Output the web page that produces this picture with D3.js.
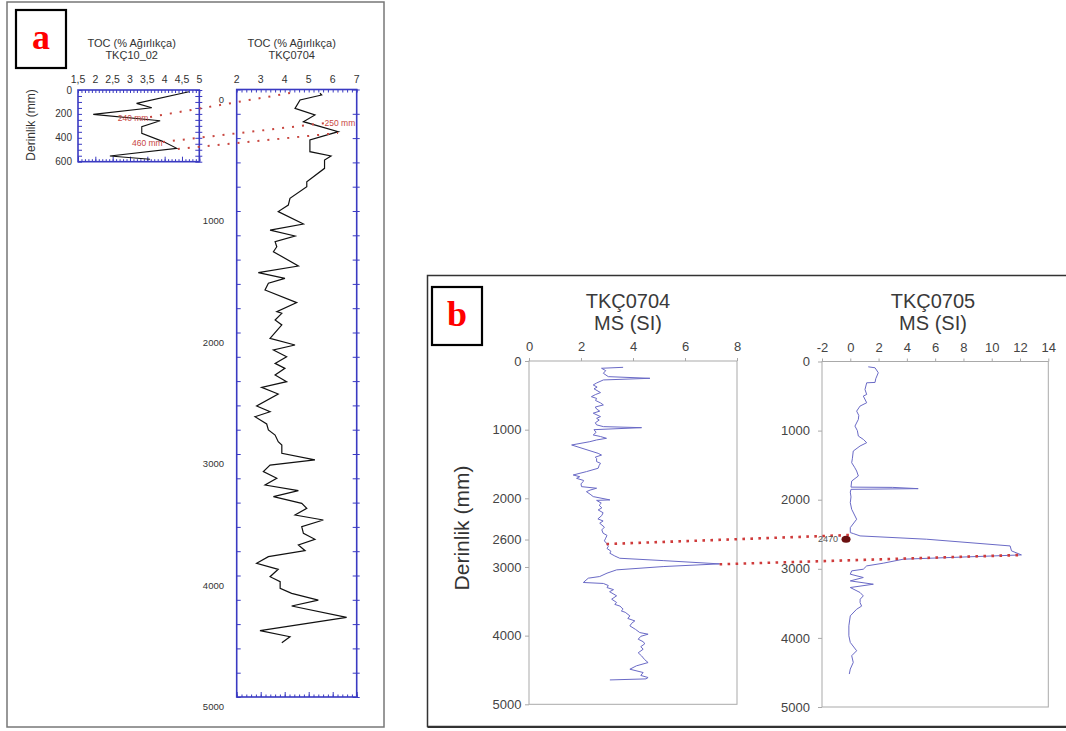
<!DOCTYPE html>
<html>
<head>
<meta charset="utf-8">
<script src="https://cdn.jsdelivr.net/npm/d3@7"></script>
<style>
  body { margin: 0; background: #fff; }
  svg { display: block; font-family: "Liberation Sans", Arial, sans-serif; }
</style>
</head>
<body>
<svg id="chart" width="1066" height="731"></svg>
<script>
// ---- Data: [derinlik (mm), değer] ----
// TOC, TKÇ10_02 (panel a, small plot)
const tocShort = [
  [15, 4.7], [112, 3.19], [148, 3.63], [204, 1.94], [257, 3.87], [307, 3.34],
  [363, 3.34], [432, 3.96], [488, 4.35], [552, 2.42], [580, 3.58]
];
// TOC, TKÇ0704 (panel a, long plot)
const tocLong = [
  [31, 5.47], [45, 5.54], [86, 4.64], [155, 4.43], [210, 5.26], [265, 4.78],
  [347, 6.23], [415, 5.05], [512, 5.05], [547, 5.93], [580, 5.66], [649, 5.66],
  [759, 4.92], [800, 4.92], [896, 4.22], [951, 4.15], [1005, 3.73], [1107, 4.78],
  [1157, 3.39], [1206, 4.43], [1252, 3.6], [1294, 3.67], [1335, 3.53], [1453, 4.57],
  [1507, 2.9], [1554, 4.01], [1595, 3.32], [1650, 3.18], [1754, 4.5], [1828, 3.67],
  [1842, 3.88], [1897, 3.6], [1938, 3.88], [2048, 3.39], [2103, 4.43], [2144, 3.53],
  [2199, 4.08], [2254, 3.6], [2295, 4.01], [2350, 3.6], [2405, 4.08], [2451, 3.04],
  [2506, 3.73], [2605, 2.83], [2652, 3.39], [2693, 2.76], [2753, 3.25], [2802, 3.32],
  [2844, 3.6], [2899, 3.73], [2926, 3.88], [2994, 3.88], [3049, 5.26], [3091, 3.39],
  [3145, 3.11], [3200, 3.67], [3255, 3.18], [3302, 4.57], [3351, 3.53], [3406, 4.71],
  [3447, 4.92], [3502, 4.43], [3543, 5.61], [3598, 4.71], [3653, 4.78], [3702, 5.26],
  [3749, 4.57], [3796, 4.85], [3845, 3.32], [3900, 2.83], [3949, 3.73], [4010, 3.39],
  [4051, 3.81], [4106, 3.81], [4147, 4.29], [4202, 5.4], [4251, 4.29], [4344, 6.58],
  [4454, 2.97], [4504, 4.22], [4553, 3.88]
];
// MS (SI), TKÇ0704 (panel b, left)
const ms0704 = [
  [92, 3.62], [106, 2.79], [140, 2.95], [179, 2.86], [228, 3.05], [252, 4.65], [276, 2.86],
  [320, 2.6], [349, 2.47], [380, 2.62], [405, 2.5], [460, 2.75], [490, 2.55], [520, 2.4],
  [545, 2.6], [575, 2.56], [610, 2.75], [640, 2.86], [670, 2.55], [700, 2.6], [730, 2.72],
  [760, 2.47], [810, 2.75], [835, 2.6], [860, 2.7], [900, 2.55], [930, 2.6], [956, 2.86],
  [971, 4.33], [1000, 2.5], [1040, 2.58], [1077, 2.47], [1100, 2.75], [1126, 2.98],
  [1150, 2.6], [1175, 2.34], [1223, 1.64], [1345, 2.66], [1370, 2.79], [1400, 2.55],
  [1420, 2.6], [1465, 2.6], [1490, 2.75], [1520, 2.7], [1562, 2.66], [1611, 2.21],
  [1660, 1.7], [1685, 1.95], [1709, 1.83], [1740, 2.1], [1757, 2.08], [1790, 2.0],
  [1830, 2.02], [1853, 2.6], [1880, 2.35], [1903, 2.21], [1940, 2.35], [1975, 2.47],
  [2023, 3.11], [2030, 2.6], [2070, 2.78], [2100, 2.7], [2140, 2.8], [2169, 2.66],
  [2210, 2.85], [2250, 2.8], [2300, 2.65], [2330, 2.85], [2363, 2.72], [2420, 2.9],
  [2460, 2.8], [2508, 2.85], [2540, 3.0], [2580, 2.95], [2620, 2.9], [2654, 2.98],
  [2700, 3.05], [2730, 3.0], [2770, 3.15], [2800, 3.11], [2840, 3.3], [2873, 3.49],
  [2907, 5.16], [2955, 7.33], [2994, 5.16], [3042, 3.37], [3090, 3.0], [3139, 2.72],
  [3163, 2.28], [3226, 2.09], [3240, 2.86], [3270, 3.05], [3300, 3.0], [3330, 3.25],
  [3360, 3.1], [3420, 3.37], [3469, 3.18], [3517, 3.37], [3545, 3.3], [3570, 3.5],
  [3615, 3.62], [3640, 3.55], [3660, 3.7], [3712, 3.88], [3750, 3.8], [3785, 4.07],
  [3820, 3.95], [3858, 3.88], [3910, 4.1], [3955, 4.26], [3979, 4.58], [4010, 4.3],
  [4052, 4.2], [4090, 4.4], [4120, 4.45], [4160, 4.3], [4198, 4.39], [4250, 4.2],
  [4295, 4.33], [4350, 4.45], [4392, 4.58], [4440, 4.13], [4489, 3.88], [4537, 4.39],
  [4580, 4.3], [4610, 4.58], [4630, 4.5], [4645, 3.11]
];
// MS (SI), TKÇ0705 (panel b, right)
const ms0705 = [
  [77, 1.27], [91, 1.75], [163, 1.98], [250, 1.8], [303, 1.75], [308, 1.16], [405, 1.04],
  [477, 1.16], [500, 0.92], [597, 1.16], [645, 0.69], [718, 0.45], [780, 0.6], [838, 0.57],
  [935, 0.33], [1000, 0.5], [1079, 0.57], [1127, 0.92], [1175, 1.16], [1223, 0.69],
  [1296, 0.21], [1400, 0.15], [1465, 0.1], [1530, 0.3], [1585, 0.45], [1657, 0.57],
  [1730, 0.1], [1818, 0.05], [1822, 3.0], [1840, 4.8], [1850, 0.05], [1890, 0.0],
  [1960, 0.05], [2043, 0.0], [2139, 0.1], [2283, 0.45], [2404, 0.0], [2476, 0.0],
  [2490, 0.21], [2524, 0.69], [2572, 5.4], [2669, 11.3], [2741, 11.4], [2799, 12.1],
  [2861, 3.75], [2919, 2.33], [2958, 1.16], [3006, 0.92], [3030, 0.1], [3078, 0.0],
  [3126, 0.92], [3175, 0.0], [3223, 1.63], [3271, 0.0], [3343, 0.69], [3392, 0.92],
  [3440, 0.7], [3488, 0.69], [3540, 0.8], [3585, 0.45], [3681, 0.0], [3825, -0.1],
  [3970, -0.1], [4066, 0.0], [4186, 0.45], [4258, 0.1], [4355, 0.21], [4451, 0.0],
  [4523, -0.07]
];

// ---- Tick labels ----
const tocShortTicksX = [1.5, 2, 2.5, 3, 3.5, 4, 4.5, 5];
const tocShortTickText = ["1,5", "2", "2,5", "3", "3,5", "4", "4,5", "5"];
const tocShortTicksY = [0, 200, 400, 600];
const tocLongTicksX = [2, 3, 4, 5, 6, 7];
const tocLongTicksY = [0, 1000, 2000, 3000, 4000, 5000];
const ms0704TicksX = [0, 2, 4, 6, 8];
const ms0704TicksY = [0, 1000, 2000, 2600, 3000, 4000, 5000];
const ms0705TicksX = [-2, 0, 2, 4, 6, 8, 10, 12, 14];
const ms0705TicksY = [0, 1000, 2000, 3000, 4000, 5000];

// Korelasyon çizgileri: [değer1, derinlik1, değer2, derinlik2]
const corrA = [
  [3.58, 226, 4.22, 29],
  [3.95, 435, 5.68, 276],
  [4.38, 494, 6.22, 358]
];
const corrB = [
  [2.98, 2666, -0.02, 2511],
  [7.33, 2961, 12.11, 2800]
];
// Not etiketleri: [metin, değer, derinlik]
const notesShort = [["240 mm", 3.09, 234], ["460 mm", 3.5, 444]];
const notesLong = [["250 mm", 6.3, 276]];
const marker0705 = [["2470", -0.3, 2572]];

const svg = d3.select("#chart");
const blue = "#3a3ac2";
const grey = "#a9a9a9";
const red = "#c8463f";

// ---- Panel çerçeveleri ----
svg.append("rect").attr("x", 7).attr("y", 2).attr("width", 377).attr("height", 725)
  .attr("fill", "none").attr("stroke", "#777").attr("stroke-width", 1.5);
svg.append("rect").attr("x", 427.5).attr("y", 275.5).attr("width", 650).attr("height", 451)
  .attr("fill", "none").attr("stroke", "#333").attr("stroke-width", 1.5);

function panelLabel(x, y, txt) {
  svg.append("rect").attr("x", x).attr("y", y).attr("width", 50).attr("height", 58)
    .attr("fill", "#fff").attr("stroke", "#000").attr("stroke-width", 2.2);
  svg.append("text").attr("x", x + 25).attr("y", y + 39).attr("text-anchor", "middle")
    .attr("font-family", "'Liberation Serif', 'Times New Roman', serif")
    .attr("font-weight", "bold").attr("font-size", 36).attr("fill", "#f00").text(txt);
}
panelLabel(16, 10, "a");
panelLabel(432, 287, "b");

// ---- Panel a ----
const xS = d3.scaleLinear().domain([1.5, 5]).range([78, 199.3]);
const yS = d3.scaleLinear().domain([0, 600]).range([90, 161.7]);
const xL = d3.scaleLinear().domain([2, 7]).range([236.7, 356.7]);
const yL = d3.scaleLinear().domain([0, 5000]).range([89.5, 697]);

// mavi çerçeve + içe doğru tikler
function blueFrame(x, y, o) {
  const g = svg.append("g");
  const [x0, x1] = x.range(), [y0, y1] = y.range();
  const tick = (axis, tr) => g.append("g").attr("transform", tr).call(axis)
    .call(s => s.select(".domain").remove())
    .call(s => s.selectAll("line").attr("stroke", blue).attr("stroke-width", 1));
  tick(d3.axisBottom(x).tickValues(o.topMinor).tickSize(3).tickFormat(""), `translate(0,${y0})`);
  tick(d3.axisTop(x).tickValues(o.botMinor).tickSize(2.5).tickFormat(""), `translate(0,${y1})`);
  tick(d3.axisTop(x).tickValues(o.botMajor).tickSize(5).tickFormat(""), `translate(0,${y1})`);
  tick(d3.axisRight(y).tickValues(o.side).tickSize(4).tickFormat(""), `translate(${x0},0)`);
  tick(d3.axisLeft(y).tickValues(o.side).tickSize(4).tickFormat(""), `translate(${x1},0)`);
  tick(d3.axisRight(y).tickValues(o.side).tickSize(3).tickFormat(""), `translate(${x1},0)`);
  g.append("rect").attr("x", x0).attr("y", y0).attr("width", x1 - x0).attr("height", y1 - y0)
    .attr("fill", "none").attr("stroke", blue).attr("stroke-width", 1.6);
}
blueFrame(xS, yS, {
  topMinor: d3.range(1.5, 5.001, 0.1),
  botMinor: d3.range(1.5, 5.001, 0.1),
  botMajor: d3.range(1.5, 5.001, 0.5),
  side: d3.range(0, 601, 50)
});
blueFrame(xL, yL, {
  topMinor: d3.range(2, 7.001, 0.2),
  botMinor: d3.range(2, 7.001, 0.2),
  botMajor: d3.range(2, 7.001, 1),
  side: d3.range(0, 5001, 200)
});

// başlıklar
function titleA(cx, l2) {
  svg.append("text").attr("x", cx).attr("y", 46.5).attr("text-anchor", "middle")
    .attr("font-size", 11).attr("fill", "#333").text("TOC (% Ağırlıkça)");
  svg.append("text").attr("x", cx).attr("y", 58.5).attr("text-anchor", "middle")
    .attr("font-size", 11).attr("fill", "#333").text(l2);
}
titleA(131.7, "TKÇ10_02");
titleA(291.7, "TKÇ0704");

svg.append("g").selectAll("text").data(tocShortTicksX).join("text")
  .attr("x", d => xS(d)).attr("y", 83).attr("text-anchor", "middle")
  .attr("font-size", 10.5).attr("fill", "#333").text((d, i) => tocShortTickText[i]);
svg.append("g").selectAll("text").data(tocLongTicksX).join("text")
  .attr("x", d => xL(d)).attr("y", 83).attr("text-anchor", "middle")
  .attr("font-size", 10.5).attr("fill", "#333").text(d => d);
svg.append("g").selectAll("text").data(tocShortTicksY).join("text")
  .attr("x", 72).attr("y", d => yS(d) + 3.5).attr("text-anchor", "end")
  .attr("font-size", 10).attr("fill", "#333").text(d => d);
svg.append("g").selectAll("text").data(tocLongTicksY).join("text")
  .attr("x", 224).attr("y", d => yL(d) + 13).attr("text-anchor", "end")
  .attr("font-size", 9.5).attr("fill", "#333").text(d => d);

svg.append("text").attr("transform", "translate(35,125) rotate(-90)")
  .attr("text-anchor", "middle").attr("font-size", 12).attr("fill", "#333")
  .text("Derinlik (mm)");

// eğriler
const lineOf = (x, y) => d3.line().x(d => x(d[1])).y(d => y(d[0]));
svg.append("path").datum(tocShort).attr("d", lineOf(xS, yS))
  .attr("fill", "none").attr("stroke", "#111").attr("stroke-width", 1.1);
svg.append("path").datum(tocLong).attr("d", lineOf(xL, yL))
  .attr("fill", "none").attr("stroke", "#111").attr("stroke-width", 1.2);

// korelasyon (a)
svg.append("g").selectAll("line").data(corrA).join("line")
  .attr("x1", d => xS(d[0])).attr("y1", d => yS(d[1]))
  .attr("x2", d => xL(d[2])).attr("y2", d => yL(d[3]))
  .attr("stroke", red).attr("stroke-width", 2).attr("stroke-dasharray", "2,8");
svg.append("g").selectAll("text").data(notesShort).join("text")
  .attr("x", d => xS(d[1])).attr("y", d => yS(d[2]) + 3).attr("text-anchor", "middle")
  .attr("font-size", 8.5).attr("fill", red).text(d => d[0]);
svg.append("g").selectAll("text").data(notesLong).join("text")
  .attr("x", d => xL(d[1])).attr("y", d => yL(d[2]) + 3).attr("text-anchor", "middle")
  .attr("font-size", 8.5).attr("fill", red).text(d => d[0]);

// ---- Panel b ----
const xM4 = d3.scaleLinear().domain([0, 8]).range([529, 737]);
const yM4 = d3.scaleLinear().domain([0, 5000]).range([361, 704.3]);
const xM5 = d3.scaleLinear().domain([-2, 14]).range([822, 1048.3]);
const yM5 = d3.scaleLinear().domain([0, 5000]).range([361.5, 707]);

const plain = d => String(d); // "-2", "1000" (virgülsüz, düz tire)

function greyPlot(x, y, tx, ty, padL, title, cx) {
  const [x0, x1] = x.range(), [y0, y1] = y.range();
  const style = s => {
    s.select(".domain").remove();
    s.selectAll("line").attr("stroke", grey);
    s.selectAll("text").attr("fill", "#444").attr("font-size", 13)
      .attr("font-family", "'Liberation Sans', Arial, sans-serif");
  };
  svg.append("g").attr("transform", `translate(0,${y0})`)
    .call(d3.axisTop(x).tickValues(tx).tickFormat(plain).tickSize(3).tickPadding(7)).call(style);
  svg.append("g").attr("transform", `translate(${x0},0)`)
    .call(d3.axisLeft(y).tickValues(ty).tickFormat(plain).tickSize(4).tickPadding(padL)).call(style);
  svg.append("rect").attr("x", x0).attr("y", y0).attr("width", x1 - x0).attr("height", y1 - y0)
    .attr("fill", "none").attr("stroke", grey).attr("stroke-width", 1);
  svg.append("text").attr("x", cx).attr("y", 307.5).attr("text-anchor", "middle")
    .attr("font-size", 20).attr("fill", "#3a3a3a").text(title);
  svg.append("text").attr("x", cx).attr("y", 330).attr("text-anchor", "middle")
    .attr("font-size", 20).attr("fill", "#3a3a3a").text("MS (SI)");
}
greyPlot(xM4, yM4, ms0704TicksX, ms0704TicksY, 3.5, "TKÇ0704", 628);
greyPlot(xM5, yM5, ms0705TicksX, ms0705TicksY, 8, "TKÇ0705", 933);

svg.append("text").attr("transform", "translate(469,528) rotate(-90)")
  .attr("text-anchor", "middle").attr("font-size", 21).attr("fill", "#333")
  .text("Derinlik (mm)");

svg.append("path").datum(ms0704).attr("d", lineOf(xM4, yM4))
  .attr("fill", "none").attr("stroke", "#6a6ac6").attr("stroke-width", 1);
svg.append("path").datum(ms0705).attr("d", lineOf(xM5, yM5))
  .attr("fill", "none").attr("stroke", "#6a6ac6").attr("stroke-width", 1);

// korelasyon (b)
svg.append("g").selectAll("line").data(corrB).join("line")
  .attr("x1", d => xM4(d[0])).attr("y1", d => yM4(d[1]))
  .attr("x2", d => xM5(d[2])).attr("y2", d => yM5(d[3]))
  .attr("stroke", "#cf3b3b").attr("stroke-width", 2.6).attr("stroke-dasharray", "2.6,5.4");

const mk = svg.append("g").selectAll("g").data(marker0705).join("g");
mk.append("ellipse").attr("cx", d => xM5(d[1])).attr("cy", d => yM5(d[2]))
  .attr("rx", 4.5).attr("ry", 3.5).attr("fill", "#6b1010");
mk.append("text").attr("x", d => xM5(d[1]) - 8).attr("y", d => yM5(d[2]) + 3)
  .attr("text-anchor", "end").attr("font-size", 9).attr("fill", "#555").text(d => d[0]);

// alt kenar
svg.append("line").attr("x1", 427.5).attr("x2", 1066).attr("y1", 727).attr("y2", 727)
  .attr("stroke", "#333").attr("stroke-width", 2);
</script>
</body>
</html>
